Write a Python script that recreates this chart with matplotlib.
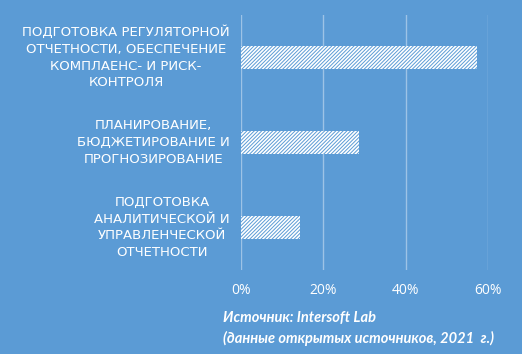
import matplotlib
matplotlib.use("Agg")
import matplotlib.pyplot as plt
from matplotlib.ticker import PercentFormatter

# данные
categories = [
    "ПОДГОТОВКА РЕГУЛЯТОРНОЙ\nОТЧЕТНОСТИ, ОБЕСПЕЧЕНИЕ\nКОМПЛАЕНС- И РИСК-\nКОНТРОЛЯ",
    "ПЛАНИРОВАНИЕ,\nБЮДЖЕТИРОВАНИЕ И\nПРОГНОЗИРОВАНИЕ",
    "ПОДГОТОВКА\nАНАЛИТИЧЕСКОЙ И\nУПРАВЛЕНЧЕСКОЙ\nОТЧЕТНОСТИ",
]
shares = [0.573, 0.286, 0.143]
x_ticks = [0, 0.2, 0.4, 0.6]
source_lines = ["Источник: Intersoft Lab", "(данные открытых источников, 2021  г.)"]

BG = "#5B9BD5"
GRID = "#9DC3E6"

plt.rcParams["hatch.linewidth"] = 0.7

fig = plt.figure(figsize=(5.22, 3.54), dpi=100, facecolor=BG)
ax = fig.add_axes([241 / 522, 1 - 270 / 354, 247 / 522, 255 / 354])
ax.set_facecolor(BG)

ypos = list(range(len(categories)))
ax.barh(ypos, shares, height=0.27, color="white", edgecolor=BG,
        linewidth=0, hatch="/" * 9, zorder=3)

ax.set_xlim(0, 0.6)
ax.set_ylim(2.5, -0.5)
ax.set_xticks(x_ticks)
ax.xaxis.set_major_formatter(PercentFormatter(1.0, decimals=0))
ax.grid(axis="x", color=GRID, linewidth=1, zorder=0)
ax.tick_params(axis="x", length=0, pad=9, colors="white", labelsize=10)
ax.tick_params(axis="y", length=0, left=False, labelleft=False)
for lbl in ax.get_xticklabels():
    lbl.set_family("Open Sans")
for s in ax.spines.values():
    s.set_visible(False)

for y, cat in zip(ypos, categories):
    ax.text(-0.045, y, cat, ha="right", va="center", multialignment="center",
            color="white", fontsize=9.5, family="DejaVu Sans",
            linespacing=1.38, transform=ax.get_yaxis_transform())

fig.text(223 / 522, 1 - 318 / 354, source_lines[0], color="white",
         fontsize=10.5, fontweight="bold", fontstyle="italic",
         family="Lato", va="center", ha="left")
fig.text(223 / 522, 1 - 338 / 354, source_lines[1], color="white",
         fontsize=10.5, fontweight="bold", fontstyle="italic",
         family="Lato", va="center", ha="left")

fig.savefig("out.png", dpi=100, facecolor=BG)
